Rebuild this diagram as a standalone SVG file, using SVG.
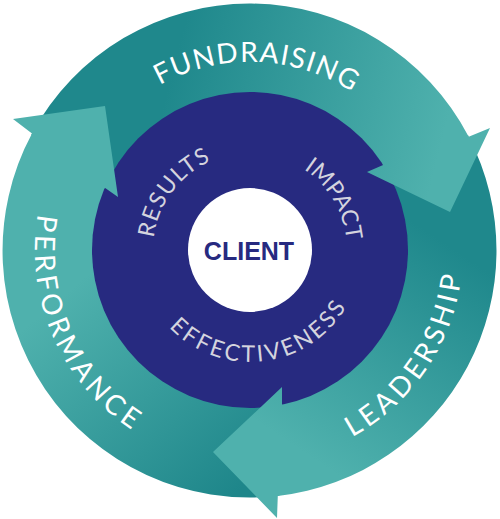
<svg xmlns="http://www.w3.org/2000/svg" xmlns:xlink="http://www.w3.org/1999/xlink" width="500" height="519" viewBox="0 0 500 519">
<style>
.lbl{font-family:Lato,"Liberation Sans",sans-serif;font-size:28px;fill:#ffffff;}
.inn{font-family:Lato,"Liberation Sans",sans-serif;font-size:23px;fill:#d4d4de;}
.client{font-family:"Liberation Sans",Arial,sans-serif;font-size:25px;font-weight:bold;fill:#272a80;}
</style>
<defs>
<linearGradient id="gFund" gradientUnits="userSpaceOnUse" x1="170" y1="80" x2="440" y2="150">
<stop offset="0" stop-color="#1f888c"/><stop offset="1" stop-color="#4fb1ad"/>
</linearGradient>
<linearGradient id="gLead" gradientUnits="userSpaceOnUse" x1="470" y1="260" x2="330" y2="470">
<stop offset="0" stop-color="#1f888c"/><stop offset="1" stop-color="#4fb1ad"/>
</linearGradient>
<linearGradient id="gPerf" gradientUnits="userSpaceOnUse" x1="240" y1="490" x2="70" y2="290">
<stop offset="0" stop-color="#1e868a"/><stop offset="1" stop-color="#4fb1ad"/>
</linearGradient>
<path id="pFund" d="M66.1 210.9 A188 188 0 0 1 436.2 223.8"/>
<path id="pPerf" d="M131.3 70.7 A215 215 0 0 0 300.2 459.1"/>
<path id="pLead" d="M162.5 444.2 A213 213 0 0 0 398.6 97.4"/>
<path id="pRes" d="M169 303.4 A97 97 0 0 1 277.7 157"/>
<path id="pImp" d="M231.5 154.8 A97 97 0 0 1 325.4 311"/>
<path id="pEff" d="M142.6 281.6 A112 112 0 0 0 361.8 257"/>
</defs>
<g id="connectors">
<path id="shaft-fundraising" fill="url(#gFund)" d="M118 197 L32 133.55 A247 247 0 0 1 468.7 136.7 L367 172 A141 141 0 0 0 118 197 Z"/>
<path id="shaft-leadership" fill="url(#gLead)" d="M367 172 L468.7 136.7 A247 247 0 0 1 277.8 495.9 L282 387 A141 141 0 0 0 367 172 Z"/>
<path id="shaft-performance" fill="url(#gPerf)" d="M282 387 L277.8 495.9 A247 247 0 0 1 32 133.55 L118 197 A141 141 0 0 0 282 387 Z"/>
</g>
<g id="core"><circle cx="250" cy="250" r="158" fill="#272a80"/></g>
<g id="arrowheads">
<polygon id="head-performance" fill="url(#gPerf)" points="105,106 13,119 32,133.55 31.1,134.75 103.9,189 104.8,187.8 118,197"/>
<polygon id="head-fundraising" fill="url(#gFund)" points="450,212 367,172 383.1,164.9 382.6,163.5 468.2,135.3 468.7,136.7 490,128"/>
<polygon id="head-leadership" fill="url(#gLead)" points="213,452 282,387 282,404.7 283.5,404.8 279.3,496 277.8,495.9 277,518"/>
</g>
<g id="fundraising"><text class="lbl"><textPath xlink:href="#pFund" href="#pFund" startOffset="50%" text-anchor="middle" textLength="202" lengthAdjust="spacing">FUNDRAISING</textPath></text></g>
<g id="leadership"><text class="lbl"><textPath xlink:href="#pLead" href="#pLead" startOffset="50%" text-anchor="middle" textLength="202" lengthAdjust="spacing">LEADERSHIP</textPath></text></g>
<g id="performance"><text class="lbl"><textPath xlink:href="#pPerf" href="#pPerf" startOffset="50%" text-anchor="middle" textLength="249" lengthAdjust="spacing">PERFORMANCE</textPath></text></g>
<g id="results"><text class="inn"><textPath xlink:href="#pRes" href="#pRes" startOffset="50%" text-anchor="middle" textLength="100" lengthAdjust="spacing">RESULTS</textPath></text></g>
<g id="impact"><text class="inn"><textPath xlink:href="#pImp" href="#pImp" startOffset="50%" text-anchor="middle" textLength="86" lengthAdjust="spacing">IMPACT</textPath></text></g>
<g id="effectiveness"><text class="inn"><textPath xlink:href="#pEff" href="#pEff" startOffset="50%" text-anchor="middle" textLength="206" lengthAdjust="spacing">EFFECTIVENESS</textPath></text></g>
<g id="client">
<circle cx="250" cy="250" r="62" fill="#ffffff"/>
<text class="client" x="249" y="259.5" text-anchor="middle">CLIENT</text>
</g>
</svg>
